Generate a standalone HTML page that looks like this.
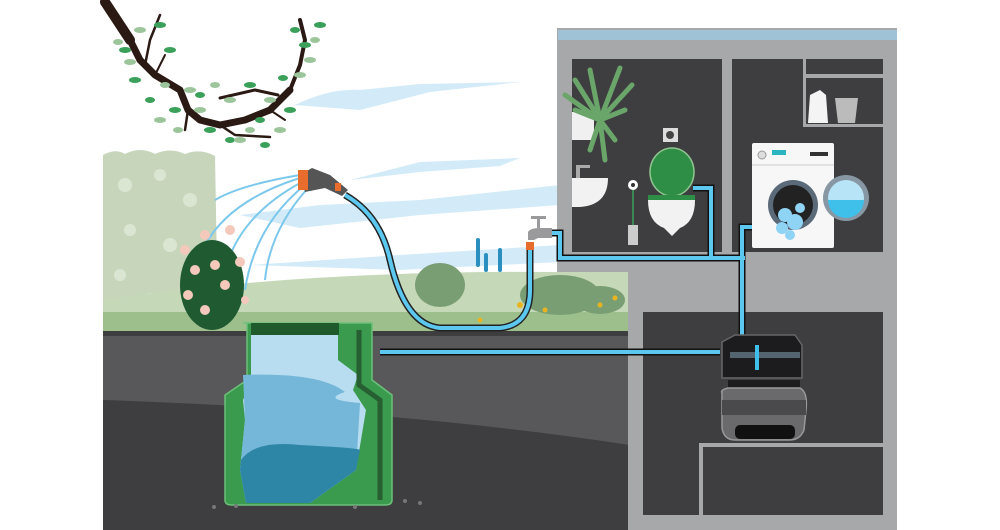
<!DOCTYPE html>
<html><head><meta charset="utf-8"><style>
html,body{margin:0;padding:0;background:#fff;width:1000px;height:530px;overflow:hidden}
svg{display:block}
</style></head><body>
<svg width="1000" height="530" viewBox="0 0 1000 530" xmlns="http://www.w3.org/2000/svg">
<rect width="1000" height="530" fill="#fff"/>
<!-- clouds -->
<g fill="#d3ebf8">
<path d="M295 105 Q330 88 360 90 L420 84 L520 82 L430 92 L360 110 Z"/>
<path d="M350 180 L420 162 L520 158 L500 166 L420 172 Z"/>
<path d="M240 215 L320 205 L420 200 L560 185 L560 205 L420 215 L300 228 Z"/>
<path d="M250 265 L400 255 L560 245 L560 262 L400 270 Z"/>
<path d="M270 300 L450 290 L560 285 L560 296 Z"/>
</g>
<!-- hedge -->
<path d="M103 155 Q115 148 125 154 Q140 146 155 154 Q170 147 185 154 Q200 148 215 156 L218 320 L103 320 Z" fill="#c7d6bb"/>
<g fill="#dbe6d2"><circle cx="125" cy="185" r="7"/><circle cx="160" cy="175" r="6"/><circle cx="190" cy="200" r="7"/><circle cx="130" cy="230" r="6"/><circle cx="170" cy="245" r="7"/><circle cx="120" cy="275" r="6"/><circle cx="200" cy="265" r="6"/><circle cx="150" cy="300" r="7"/></g>
<!-- grass / meadow -->
<path d="M103 300 Q300 270 560 272 L628 272 L628 331 L103 331 Z" fill="#c5d8b7"/>
<path d="M103 312 L628 312 L628 331 L103 331 Z" fill="#9dbf8c"/>
<g fill="#7a9e74"><ellipse cx="440" cy="285" rx="25" ry="22"/><ellipse cx="560" cy="295" rx="40" ry="20"/><ellipse cx="600" cy="300" rx="25" ry="14"/></g>
<g fill="#e8b520"><circle cx="520" cy="305" r="3"/><circle cx="530" cy="300" r="2.5"/><circle cx="545" cy="310" r="2.5"/><circle cx="600" cy="305" r="2.5"/><circle cx="615" cy="298" r="2.5"/><circle cx="480" cy="320" r="2.5"/></g>
<g stroke="#2a8fbf" stroke-width="4" stroke-linecap="round"><line x1="478" y1="240" x2="478" y2="265"/><line x1="486" y1="255" x2="486" y2="270"/><line x1="500" y1="250" x2="500" y2="270"/></g>
<!-- ground -->
<rect x="103" y="331" width="527" height="199" fill="#3e3e40"/>
<path d="M103 336 L630 336 L630 445 Q400 410 103 400 Z" fill="#58585a"/>
<!-- tree -->
<g stroke="#2b1a14" stroke-linecap="round" stroke-linejoin="round" fill="none">
<path d="M105 2 L125 30 L140 60 L155 75 L180 90 L188 110 L200 120 L220 125 L245 120 L270 110 L290 90" stroke-width="7"/>
<path d="M105 2 L130 40" stroke-width="10"/>
<path d="M290 90 L300 65 L305 40 L300 20" stroke-width="4"/>
<path d="M145 65 L150 40 L160 15" stroke-width="2.5"/>
<path d="M188 110 L185 130" stroke-width="2.5"/>
<path d="M220 125 L235 135 L270 137" stroke-width="2.5"/>
<path d="M220 98 L255 90 L278 95" stroke-width="3"/>
<path d="M155 75 L165 55" stroke-width="2"/>
<path d="M270 110 L285 120" stroke-width="2"/>
</g>
<g fill="#3aa05a">
<ellipse cx="125" cy="50" rx="6" ry="3"/><ellipse cx="170" cy="50" rx="6" ry="3"/><ellipse cx="135" cy="80" rx="6" ry="3"/><ellipse cx="175" cy="110" rx="6" ry="3"/><ellipse cx="210" cy="130" rx="6" ry="3"/><ellipse cx="250" cy="85" rx="6" ry="3"/><ellipse cx="290" cy="110" rx="6" ry="3"/><ellipse cx="305" cy="45" rx="6" ry="3"/><ellipse cx="320" cy="25" rx="6" ry="3"/><ellipse cx="265" cy="145" rx="5" ry="3"/><ellipse cx="160" cy="25" rx="6" ry="3"/>
<ellipse cx="150" cy="100" rx="5" ry="3"/><ellipse cx="230" cy="140" rx="5" ry="3"/><ellipse cx="283" cy="78" rx="5" ry="3"/><ellipse cx="295" cy="30" rx="5" ry="3"/><ellipse cx="200" cy="95" rx="5" ry="3"/><ellipse cx="260" cy="120" rx="5" ry="3"/>
</g>
<g fill="#9cc59b">
<ellipse cx="140" cy="30" rx="6" ry="3"/><ellipse cx="130" cy="62" rx="6" ry="3"/><ellipse cx="190" cy="90" rx="6" ry="3"/><ellipse cx="160" cy="120" rx="6" ry="3"/><ellipse cx="230" cy="100" rx="6" ry="3"/><ellipse cx="270" cy="100" rx="6" ry="3"/><ellipse cx="300" cy="75" rx="6" ry="3"/><ellipse cx="310" cy="60" rx="6" ry="3"/><ellipse cx="240" cy="140" rx="6" ry="3"/><ellipse cx="280" cy="130" rx="6" ry="3"/><ellipse cx="200" cy="110" rx="6" ry="3"/>
<ellipse cx="118" cy="42" rx="5" ry="3"/><ellipse cx="165" cy="85" rx="5" ry="3"/><ellipse cx="215" cy="85" rx="5" ry="3"/><ellipse cx="315" cy="40" rx="5" ry="3"/><ellipse cx="250" cy="130" rx="5" ry="3"/><ellipse cx="178" cy="130" rx="5" ry="3"/>
</g>
<!-- water spray -->
<g stroke="#7cc8ec" stroke-width="2" fill="none">
<path d="M300 175 Q240 185 215 200"/><path d="M300 178 Q230 200 205 245"/><path d="M302 182 Q240 215 225 270"/><path d="M305 185 Q255 225 245 290"/><path d="M308 188 Q270 230 265 280"/>
</g>
<!-- rose bush -->
<ellipse cx="212" cy="285" rx="32" ry="45" fill="#1f5a30"/>
<g fill="#f4c9bb"><circle cx="185" cy="250" r="5"/><circle cx="205" cy="235" r="5"/><circle cx="230" cy="230" r="5"/><circle cx="195" cy="270" r="5"/><circle cx="215" cy="265" r="5"/><circle cx="240" cy="262" r="5"/><circle cx="188" cy="295" r="5"/><circle cx="225" cy="285" r="5"/><circle cx="205" cy="310" r="5"/><circle cx="245" cy="300" r="4"/></g>
<!-- hose -->
<path d="M345 195 Q380 215 390 260 Q405 325 440 328 L500 328 Q530 325 530 290 L530 248" stroke="#222" stroke-width="7" fill="none"/>
<path d="M345 195 Q380 215 390 260 Q405 325 440 328 L500 328 Q530 325 530 290 L530 248" stroke="#5cc8f0" stroke-width="4" fill="none"/>
<!-- nozzle -->
<path d="M300 175 L312 168 L330 175 L348 190 L342 196 L325 188 L305 192 Z" fill="#555"/>
<rect x="298" y="170" width="10" height="20" fill="#e86c2c"/>
<rect x="335" y="183" width="6" height="8" fill="#e86c2c"/>
<!-- tap -->
<rect x="526" y="242" width="8" height="8" fill="#e86c2c"/>
<path d="M528 240 L528 232 Q530 228 540 228 L552 228 L552 238 L538 238 L534 240 Z" fill="#9a9a9c"/>
<rect x="537" y="216" width="3" height="12" fill="#9a9a9c"/><rect x="531" y="216" width="15" height="3" fill="#9a9a9c"/>
<!-- building -->
<path d="M557 28 L897 28 L897 530 L628 530 L628 272 L557 272 Z" fill="#a7a8aa"/>
<rect x="558" y="30" width="339" height="10" fill="#9fc2d6"/>
<rect x="572" y="59" width="150" height="193" fill="#3e3e40"/>
<rect x="732" y="59" width="151" height="193" fill="#3e3e40"/>
<rect x="803" y="59" width="80" height="68" fill="#a7a8aa"/>
<rect x="806" y="59" width="77" height="15" fill="#3e3e40"/>
<rect x="806" y="78" width="77" height="46" fill="#3e3e40"/>
<rect x="643" y="312" width="240" height="203" fill="#3e3e40"/>
<rect x="699" y="443" width="184" height="72" fill="#a7a8aa"/>
<rect x="703" y="447" width="180" height="68" fill="#3e3e40"/>
<!-- plant -->
<rect x="572" y="112" width="22" height="28" fill="#f0f0f0"/>
<g stroke="#6aa56a" stroke-width="5" fill="none" stroke-linecap="round">
<path d="M600 120 L575 80"/><path d="M600 120 L590 70"/><path d="M600 120 L620 68"/><path d="M600 120 L632 85"/><path d="M600 120 L625 110"/><path d="M600 120 L605 160"/><path d="M600 120 L575 110"/><path d="M600 120 L615 140"/><path d="M600 120 L565 95"/><path d="M600 120 L590 150"/>
</g>
<!-- sink -->
<path d="M572 178 L608 178 Q608 205 580 207 L572 207 Z" fill="#f2f2f2"/>
<rect x="576" y="165" width="4" height="13" fill="#aaa"/><rect x="576" y="165" width="14" height="3" fill="#aaa"/>
<circle cx="633" cy="185" r="5" fill="#fff"/><circle cx="633" cy="185" r="2" fill="#333"/>
<rect x="628" y="225" width="10" height="20" fill="#ccc"/><line x1="633" y1="190" x2="633" y2="225" stroke="#3aa05a" stroke-width="1.5"/>
<!-- toilet -->
<rect x="663" y="128" width="15" height="14" fill="#ddd"/><circle cx="670" cy="135" r="4" fill="#444"/>
<ellipse cx="672" cy="172" rx="22" ry="24" fill="#2f8e45" stroke="#8fc48f" stroke-width="1.5"/>
<rect x="648" y="195" width="47" height="5" fill="#2f8e45"/>
<path d="M648 200 L695 200 Q695 222 680 228 L672 236 L664 228 Q648 222 648 200 Z" fill="#f2f2f2"/>
<!-- shelf items -->
<path d="M810 95 L820 90 L826 95 L828 123 L808 123 Z" fill="#f4f4f4"/>
<path d="M835 98 L858 98 L855 123 L838 123 Z" fill="#bbb"/>
<!-- washer -->
<rect x="752" y="143" width="82" height="105" rx="2" fill="#f7f7f7"/>
<line x1="752" y1="165" x2="834" y2="165" stroke="#ccc"/>
<circle cx="762" cy="155" r="4" fill="#ddd" stroke="#999"/>
<rect x="772" y="150" width="14" height="5" fill="#2ab5c0"/>
<rect x="810" y="152" width="18" height="4" fill="#333"/>
<circle cx="793" cy="205" r="25" fill="#5a6a78"/><circle cx="793" cy="205" r="20" fill="#222"/>
<g fill="#8fd3f5"><circle cx="785" cy="215" r="7"/><circle cx="795" cy="222" r="8"/><circle cx="782" cy="228" r="6"/><circle cx="800" cy="208" r="5"/><circle cx="790" cy="235" r="5"/></g>
<circle cx="846" cy="198" r="23" fill="#8797a3"/><circle cx="846" cy="198" r="18" fill="#b7e4f6"/>
<path d="M828 200 L864 200 A18 18 0 0 1 828 200 Z" fill="#3ec0ea"/>
<!-- pipes -->
<g fill="none" stroke="#111" stroke-width="7" stroke-linejoin="miter">
<path d="M552 233 L560 233 L560 258 L745 258"/>
<path d="M693 188 L711 188 L711 258"/>
<path d="M752 227 L742 227 L742 336"/>
<path d="M380 352 L720 352"/>
</g>
<g fill="none" stroke="#5cc8f0" stroke-width="4">
<path d="M552 233 L560 233 L560 258 L745 258"/>
<path d="M693 188 L711 188 L711 258"/>
<path d="M752 227 L742 227 L742 336"/>
<path d="M380 352 L720 352"/>
</g>
<!-- pump -->
<path d="M722 342 L735 335 L795 335 L802 345 L802 378 L722 378 Z" fill="#1c1c1e" stroke="#666" stroke-width="1.5"/>
<rect x="730" y="352" width="70" height="6" fill="#55656f"/>
<rect x="755" y="345" width="4" height="25" fill="#3ec0ea"/>
<path d="M728 380 L800 380 L800 393 L728 393 Z" fill="#1c1c1e"/>
<path d="M722 393 Q720 390 728 388 L800 388 Q808 392 806 410 L804 430 Q800 440 790 440 L735 440 Q724 440 722 428 Z" fill="#6a6a6c" stroke="#999" stroke-width="1.5"/>
<rect x="722" y="400" width="84" height="15" fill="#4a4a4c"/>
<rect x="735" y="425" width="60" height="14" rx="5" fill="#111"/>
<!-- tank -->
<path d="M243 323 L247 323 L247 380 L225 395 L225 500 Q225 505 232 505 L385 505 Q392 505 392 500 L392 395 L372 380 L372 323 Z" fill="#3a9a4e" stroke="#6cc07a" stroke-width="1.5"/>
<rect x="251" y="323" width="88" height="12" fill="#1f5a2c"/>
<path d="M251 335 L338 335 L338 360 L358 375 L353 390 L366 410 L356 470 L310 503 L246 503 L240 470 L245 420 L243 400 L251 380 Z" fill="#b8dcf0"/>
<path d="M243 375 Q320 372 345 392 Q320 400 360 403 L356 470 L310 503 L246 503 L240 470 L245 420 Z" fill="#74b7d8"/>
<path d="M241 460 Q255 440 300 445 Q360 448 360 450 L356 470 L310 503 L246 503 L240 470 Z" fill="#2e86a6"/>
<path d="M359 330 L359 385 L380 400 L380 500" stroke="#275f33" stroke-width="5" fill="none"/>
<g fill="#777"><circle cx="214" cy="507" r="2"/><circle cx="236" cy="506" r="2"/><circle cx="355" cy="507" r="2"/><circle cx="405" cy="501" r="2"/><circle cx="420" cy="503" r="2"/></g>
</svg>
</body></html>
